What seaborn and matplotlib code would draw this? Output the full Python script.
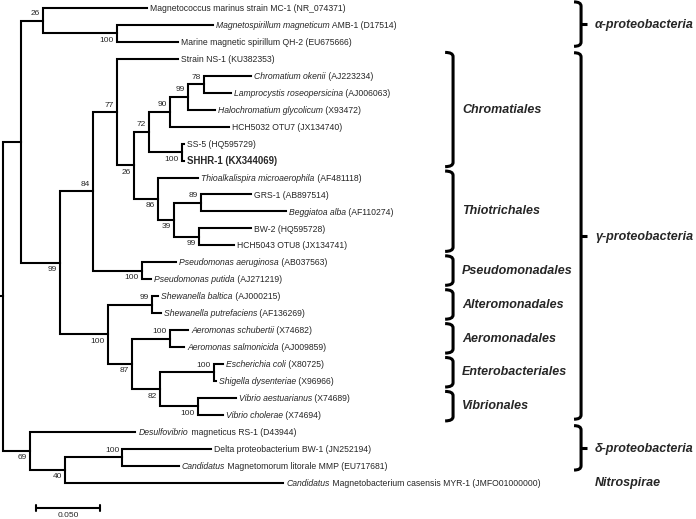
import numpy as np
import pandas as pd
import matplotlib
matplotlib.use("Agg")
import matplotlib.pyplot as plt
from matplotlib.path import Path
from matplotlib.patches import PathPatch
from matplotlib.transforms import offset_copy
import seaborn as sns

# leaf labels top to bottom, as (text, style) pieces: n normal, i italic, b bold
leaf_labels = [
    [("Magnetococcus marinus strain MC-1 (NR_074371)", "n")],
    [("Magnetospirillum magneticum", "i"), (" AMB-1 (D17514)", "n")],
    [("Marine magnetic spirillum QH-2 (EU675666)", "n")],
    [("Strain NS-1 (KU382353)", "n")],
    [("Chromatium okenii", "i"), (" (AJ223234)", "n")],
    [("Lamprocystis roseopersicina", "i"), (" (AJ006063)", "n")],
    [("Halochromatium glycolicum", "i"), (" (X93472)", "n")],
    [("HCH5032 OTU7 (JX134740)", "n")],
    [("SS-5 (HQ595729)", "n")],
    [("SHHR-1 (KX344069)", "b")],
    [("Thioalkalispira microaerophila", "i"), (" (AF481118)", "n")],
    [("GRS-1 (AB897514)", "n")],
    [("Beggiatoa alba", "i"), (" (AF110274)", "n")],
    [("BW-2 (HQ595728)", "n")],
    [("HCH5043 OTU8 (JX134741)", "n")],
    [("Pseudomonas aeruginosa", "i"), (" (AB037563)", "n")],
    [("Pseudomonas putida", "i"), (" (AJ271219)", "n")],
    [("Shewanella baltica", "i"), (" (AJ000215)", "n")],
    [("Shewanella putrefaciens", "i"), (" (AF136269)", "n")],
    [("Aeromonas schubertii", "i"), (" (X74682)", "n")],
    [("Aeromonas salmonicida", "i"), (" (AJ009859)", "n")],
    [("Escherichia coli", "i"), (" (X80725)", "n")],
    [("Shigella dysenteriae", "i"), (" (X96966)", "n")],
    [("Vibrio aestuarianus", "i"), (" (X74689)", "n")],
    [("Vibrio cholerae", "i"), (" (X74694)", "n")],
    [("Desulfovibrio", "i"), (" magneticus RS-1 (D43944)", "n")],
    [("Delta proteobacterium BW-1 (JN252194)", "n")],
    [("Candidatus", "i"), (" Magnetomorum litorale MMP (EU717681)", "n")],
    [("Candidatus", "i"), (" Magnetobacterium casensis MYR-1 (JMFO01000000)", "n")],
]
# terminal branch lengths (substitutions per site)
leaf_len = [0.0813, 0.0750, 0.0477, 0.0477, 0.0367, 0.0211, 0.0211, 0.0461,
            0.0016, 0.0016, 0.0313, 0.0391, 0.0664, 0.0406, 0.0273, 0.0266,
            0.0070, 0.0047, 0.0070, 0.0141, 0.0109, 0.0070, 0.0016, 0.0297,
            0.0195, 0.0828, 0.0688, 0.0438, 0.1703]

# internal nodes: children, branch length, bootstrap, label side (1 above, -1 below)
node_names = ["alpha", "alpha2", "n78", "n99a", "n90", "ss", "n72", "n89", "n99b",
              "n39", "n86", "n26", "n77", "pseudo", "n84", "shew", "aero", "ecoli",
              "vib", "n82", "n87", "n100", "gamma", "ag", "delta2", "n40", "n69", "root"]
node_children = [(0, "alpha2"), (1, 2), (4, 5), ("n78", 6), ("n99a", 7), (8, 9),
                 ("n90", "ss"), (11, 12), (13, 14), ("n89", "n99b"), (10, "n39"),
                 ("n72", "n86"), (3, "n26"), (15, 16), ("n77", "pseudo"), (17, 18),
                 (19, 20), (21, 22), (23, 24), ("ecoli", "vib"), ("aero", "n82"),
                 ("shew", "n87"), ("n84", "n100"), ("alpha", "gamma"), (26, 27),
                 ("delta2", 28), (25, "n40"), ("ag", "n69")]
node_len = [0.0172, 0.0578, 0.0125, 0.0141, 0.0164, 0.0258, 0.0117, 0.0211, 0.0195,
            0.0125, 0.0188, 0.0133, 0.0188, 0.0383, 0.0258, 0.0344, 0.0297, 0.0422,
            0.0297, 0.0219, 0.0188, 0.0375, 0.0305, 0.0141, 0.0445, 0.0281, 0.0211, 0.0]
node_boot = [26, 100, 78, 99, 90, 100, 72, 89, 99, 39, 86, 26, 77, 100, 84, 99, 100,
             100, 100, 82, 87, 100, 99, None, 100, 40, 69, None]
node_side = [1, -1, 1, 1, 1, -1, 1, 1, -1, -1, -1, -1, 1, -1, 1, 1, 1, 1, -1, -1, -1,
             -1, -1, 0, 1, -1, -1, 0]

order_names = ["Chromatiales", "Thiotrichales", "Pseudomonadales", "Alteromonadales",
               "Aeromonadales", "Enterobacteriales", "Vibrionales"]
order_span = [(3, 9), (10, 14), (15, 16), (17, 18), (19, 20), (21, 22), (23, 24)]
class_names = ["α-proteobacteria", "γ-proteobacteria", "δ-proteobacteria", "Nitrospirae"]
class_span = [(0, 2), (3, 24), (25, 27), (28, 28)]
scale_len = 0.05

# ---- layout
length = {i: l for i, l in enumerate(leaf_len)}
length.update(zip(node_names, node_len))
kids = dict(zip(node_names, node_children))
xs, ys = {}, {}

def layout(n, x0):
    xs[n] = x0 + length[n]
    if n in kids:
        ys[n] = np.mean([layout(c, xs[n]) for c in kids[n]])
    else:
        ys[n] = n
    return ys[n]

layout("root", 0.0)

rows = []
for k, n in enumerate(node_names):
    c0, c1 = kids[n]
    pts = [(xs[c0], ys[c0]), (xs[n], ys[c0]), (xs[n], ys[c1]), (xs[c1], ys[c1])]
    rows += [dict(seg=k, x=px, y=py) for px, py in pts]
rows += [dict(seg=99, x=-0.002, y=ys["root"]), dict(seg=99, x=0.0, y=ys["root"])]
branches = pd.DataFrame(rows)

# ---- figure
sns.set_style("white")
plt.rcParams["font.family"] = ["Liberation Sans", "DejaVu Sans"]
fig = plt.figure(figsize=(6.96, 5.19), dpi=100)
ax = fig.add_axes([0, 0, 1, 1])

sns.lineplot(data=branches, x="x", y="y", units="seg", estimator=None, sort=False,
             color="black", lw=1.5, legend=False, ax=ax,
             solid_capstyle="projecting", solid_joinstyle="miter")

ax.set_xlim(-2.5 / 1280, 693.5 / 1280)
ax.set_ylim(511 / 16.95, -8 / 16.95)
ax.axis("off")

# bootstrap values
for n, b, s in zip(node_names, node_boot, node_side):
    if b is not None:
        ax.annotate(str(b), (xs[n], ys[n]), xytext=(-3, 7 * s), textcoords="offset pixels",
                    ha="right", va="center", fontsize=6)

# leaf names, drawn piece by piece
renderer = fig.canvas.get_renderer()
for i, pieces in enumerate(leaf_labels):
    dx = 3.5
    for text, st in pieces:
        tr = offset_copy(ax.transData, fig=fig, x=dx, y=-3.2, units="dots")
        t = ax.text(xs[i], i, text, transform=tr, va="baseline",
                    fontsize=6.9 if st == "b" else 6.2,
                    style="italic" if st == "i" else "normal",
                    weight="bold" if st == "b" else "normal")
        dx += t.get_window_extent(renderer).width


def bracket(x, y0, y1, w, tip=0.0):
    r = 0.25
    verts = [(x - w, y0), (x, y0), (x, y0 + r), (x, y1 - r), (x, y1), (x - w, y1)]
    codes = [Path.MOVETO, Path.CURVE3, Path.CURVE3, Path.LINETO, Path.CURVE3, Path.CURVE3]
    ax.add_patch(PathPatch(Path(verts, codes), fill=False, edgecolor="black", lw=2.2,
                           capstyle="butt"))
    if tip:
        ym = (y0 + y1) / 2
        ax.plot([x, x + tip], [ym, ym], color="black", lw=2.2, solid_capstyle="butt")


for name, (a, b) in zip(order_names, order_span):
    bracket(0.3520, a - 0.38, b + 0.36, 0.0062)
    ax.text(0.3590, (a + b) / 2, name, fontsize=9, weight="bold", style="italic", va="center")

for name, (a, b) in zip(class_names, class_span):
    if b > a:
        bracket(0.4520, a - 0.36, b + 0.26, 0.0055, tip=0.0047)
    ax.text(0.4629, (a + b) / 2, name, fontsize=9, weight="bold", style="italic", va="center")

# scale bar
sx, sy = 0.0262, 29.5
ax.plot([sx, sx + scale_len], [sy, sy], color="black", lw=1.5)
for e in (sx, sx + scale_len):
    ax.plot([e, e], [sy - 0.18, sy + 0.18], color="black", lw=1.5)
ax.text(sx + scale_len / 2, 29.97, f"{scale_len:.3f}", fontsize=6, ha="center", va="center")

fig.savefig("out.png", dpi=100)
